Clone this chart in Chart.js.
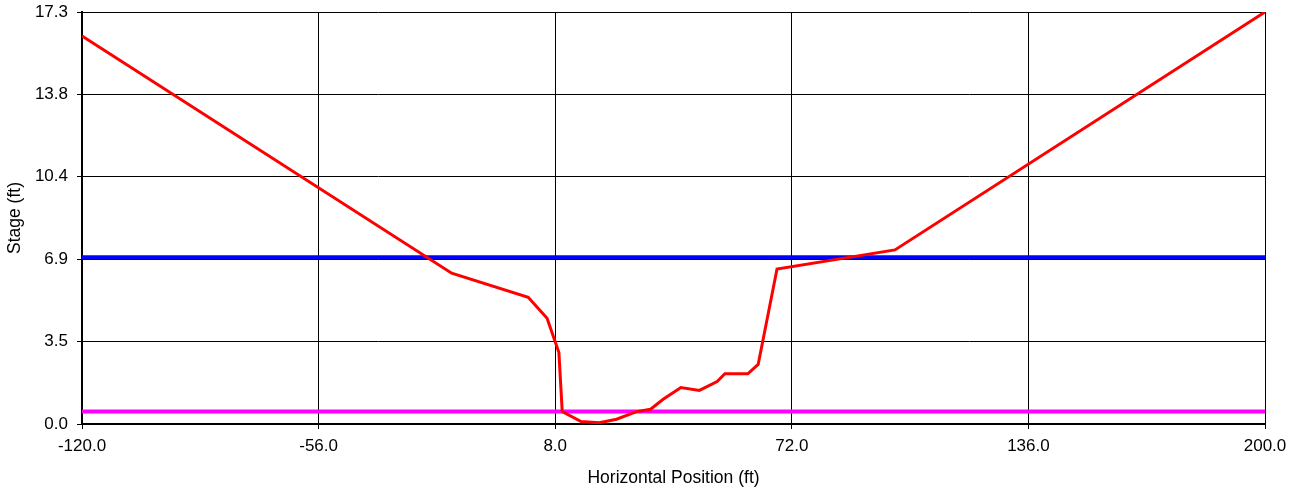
<!DOCTYPE html>
<html>
<head>
<meta charset="utf-8">
<script src="https://cdn.jsdelivr.net/npm/chart.js@4"></script>
<style>
  html, body { margin: 0; padding: 0; background: #fff; }
  #wrap { width: 1294px; height: 491px; }
</style>
</head>
<body>
<div id="wrap"><canvas id="chart"></canvas></div>
<script>
// cross-section profile
const stationX = [-120, -20, 0.7, 5.8, 9.0, 9.9, 15.0, 19.9, 24.6, 30.0, 33.8, 37.2, 42.0, 47.0, 51.8, 53.9, 60.1, 62.9, 68.0, 99.9, 200];
const stageY = [16.29, 6.33, 5.32, 4.44, 3.0, 0.52, 0.1, 0.05, 0.2, 0.52, 0.62, 1.04, 1.53, 1.41, 1.78, 2.11, 2.11, 2.5, 6.51, 7.31, 17.3];

const waterX = [-120, 200];
const waterStage = [7.0, 7.0];
const lowX = [-120, 200];
const lowStage = [0.52, 0.52];

const xTicks = [-120, -56, 8, 72, 136, 200];
const yTicks = [0, 3.46, 6.92, 10.38, 13.84, 17.3];

const toPts = (xs, ys) => xs.map((x, i) => ({ x: x, y: ys[i] }));

const tickFont = { family: '"Liberation Sans", Arial, sans-serif', size: 17 };
const titleFont = { family: '"Liberation Sans", Arial, sans-serif', size: 17.5 };

new Chart(document.getElementById('chart'), {
    type: 'scatter',
    data: {
        datasets: [
            {
                label: 'Profile',
                data: toPts(stationX, stageY),
                showLine: true,
                borderColor: '#ff0000',
                borderWidth: 3,
                pointRadius: 0,
                order: 1
            },
            {
                label: 'Water',
                data: toPts(waterX, waterStage),
                showLine: true,
                borderColor: '#0000ff',
                borderWidth: 4,
                pointRadius: 0,
                order: 2
            },
            {
                label: 'Low',
                data: toPts(lowX, lowStage),
                showLine: true,
                borderColor: '#ff00ff',
                borderWidth: 4,
                pointRadius: 0,
                order: 3
            }
        ]
    },
    options: {
        responsive: true,
        maintainAspectRatio: false,
        animation: false,
        layout: { padding: { top: 12, right: 29, left: 0, bottom: 0 } },
        plugins: {
            legend: { display: false },
            tooltip: { enabled: false }
        },
        scales: {
            x: {
                type: 'linear',
                min: -120,
                max: 200,
                afterBuildTicks: (s) => { s.ticks = xTicks.map(v => ({ value: v })); },
                afterFit: (s) => { s.height = 67; s.paddingLeft = 0; s.paddingRight = 0; },
                ticks: {
                    color: '#000',
                    font: tickFont,
                    padding: 7,
                    maxRotation: 0,
                    callback: (v) => Number(v).toFixed(1)
                },
                grid: { color: '#000', lineWidth: 1, tickLength: 5 },
                border: { color: '#000', width: 2 },
                title: { display: true, text: 'Horizontal Position (ft)', color: '#000', font: titleFont, padding: { top: 4, bottom: 2 } }
            },
            y: {
                type: 'linear',
                min: 0,
                max: 17.3,
                afterBuildTicks: (s) => { s.ticks = yTicks.map(v => ({ value: v })); },
                afterFit: (s) => { s.width = 82; s.paddingTop = 0; s.paddingBottom = 0; },
                ticks: {
                    color: '#000',
                    font: tickFont,
                    padding: 9,
                    callback: (v) => Number(v).toFixed(1)
                },
                grid: { color: '#000', lineWidth: 1, tickLength: 5 },
                border: { color: '#000', width: 2 },
                title: { display: true, text: 'Stage (ft)', color: '#000', font: titleFont, padding: { top: 5, bottom: 4 } }
            }
        }
    }
});
</script>
</body>
</html>
